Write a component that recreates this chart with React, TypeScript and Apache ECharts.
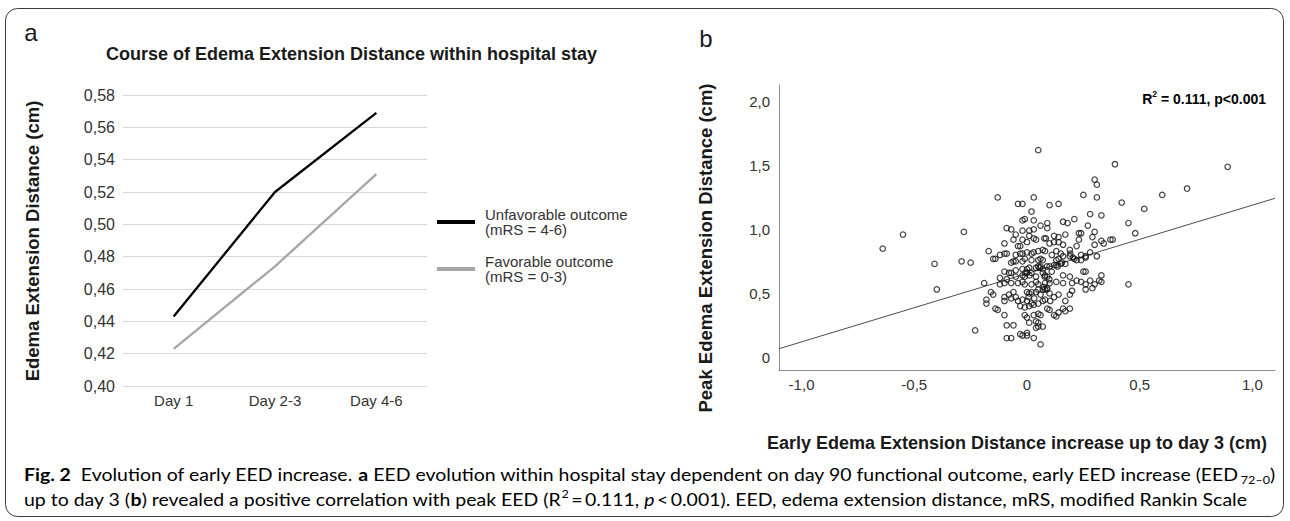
import React, { useEffect, useRef } from "react";
import * as echarts from "echarts";

// ---- Panel a: mean edema extension distance per time window ----
const days = ["Day 1", "Day 2-3", "Day 4-6"];
const unfavorableEED = [0.443, 0.52, 0.569];
const favorableEED = [0.423, 0.474, 0.531];
const outcomeNames = ["Unfavorable outcome\n(mRS = 4-6)", "Favorable outcome\n(mRS = 0-3)"];

// ---- Panel b: early EED increase (x) vs peak EED (y), in cm ----
const scatterTicksX = [-1, -0.5, 0, 0.5, 1];
const scatterTicksY = [0, 0.5, 1, 1.5, 2];
const scatterRangeX = [-1.1, 1.1];
const scatterRangeY = [-0.1, 2.13];
const fitLine = { intercept: 0.655, slope: 0.535 };
const peakVsEarly: [number, number][] = [
  [0.05, 1.62], [0.39, 1.51], [0.3, 1.39], [0.31, 1.35], [-0.13, 1.25], [0.03, 1.25], [0.25, 1.27], [0.31, 1.25],
  [0.42, 1.21], [-0.04, 1.2], [-0.02, 1.2], [0.1, 1.19], [0.14, 1.2], [0.02, 1.14], [0.28, 1.12], [0.33, 1.11],
  [-0.02, 1.07], [-0.01, 1.08], [0.03, 1.07], [0.09, 1.05], [0.16, 1.06], [0.18, 1.05], [0.21, 1.08], [0.27, 1.03],
  [0.45, 1.05], [0.06, 1.03],
  [0.71, 1.32], [0.89, 1.49], [0.6, 1.27], [0.52, 1.16],
  [-0.64, 0.85], [-0.55, 0.96], [-0.41, 0.73], [-0.4, 0.53],
  [-0.28, 0.98], [-0.09, 1.01], [-0.07, 1.0], [-0.05, 0.96], [-0.02, 0.99], [0.01, 0.99], [0.01, 0.95], [0.03, 1.0],
  [0.09, 1.01], [-0.02, 0.92], [0.0, 0.9], [0.03, 0.93], [0.04, 0.92], [0.077, 0.93], [0.084, 0.93], [0.12, 0.95],
  [0.14, 0.94], [0.17, 0.96], [0.23, 0.97], [0.24, 0.97], [0.3, 0.98], [0.48, 0.97], [-0.1, 0.89], [-0.06, 0.92],
  [-0.04, 0.87], [0.1, 0.89], [0.12, 0.9], [0.14, 0.9], [0.16, 0.88], [0.23, 0.92], [0.29, 0.94], [0.3, 0.88],
  [0.33, 0.91], [0.34, 0.89], [0.37, 0.92], [0.38, 0.92], [-0.03, 0.87],
  [-0.17, 0.83], [-0.15, 0.77], [-0.14, 0.77], [-0.12, 0.8], [-0.1, 0.81], [-0.09, 0.81], [-0.05, 0.8], [-0.03, 0.81],
  [-0.02, 0.81], [0.0, 0.82], [0.02, 0.81], [0.03, 0.82], [0.05, 0.83], [0.07, 0.84], [0.08, 0.83], [0.13, 0.83],
  [0.15, 0.81], [0.19, 0.84], [0.22, 0.87], [0.24, 0.8], [0.26, 0.79], [0.28, 0.82], [0.31, 0.79],
  [-0.07, 0.74], [-0.06, 0.75], [-0.05, 0.75], [-0.02, 0.75], [-0.01, 0.77], [0.02, 0.76], [0.05, 0.76], [0.06, 0.77],
  [0.07, 0.76], [0.11, 0.8], [0.13, 0.76], [0.14, 0.77], [0.16, 0.79], [0.19, 0.79], [0.21, 0.77], [0.22, 0.76],
  [0.24, 0.76], [0.26, 0.78], [-0.29, 0.75], [-0.25, 0.74],
  [-0.1, 0.67], [-0.08, 0.66], [-0.07, 0.66], [-0.05, 0.68], [-0.02, 0.69], [0.0, 0.69], [0.01, 0.7], [0.04, 0.7],
  [0.05, 0.71], [0.06, 0.71], [0.1, 0.71], [0.12, 0.72], [0.13, 0.72], [0.15, 0.73], [0.17, 0.73], [0.25, 0.67],
  [0.26, 0.67],
  [-0.12, 0.62], [-0.09, 0.61], [-0.1, 0.58], [-0.05, 0.63], [-0.02, 0.64], [-0.01, 0.63], [0.0, 0.66], [0.02, 0.66],
  [0.04, 0.63], [0.07, 0.66], [0.08, 0.64], [0.09, 0.63], [0.11, 0.67], [0.16, 0.64], [0.19, 0.63], [0.22, 0.6],
  [0.24, 0.59], [0.28, 0.6], [0.32, 0.6], [0.33, 0.64],
  [-0.19, 0.58], [-0.12, 0.57], [-0.07, 0.58], [-0.04, 0.58], [-0.02, 0.59], [-0.01, 0.57], [0.02, 0.57], [0.04, 0.59],
  [0.05, 0.57], [0.08, 0.58], [0.1, 0.58], [0.13, 0.59], [0.16, 0.58], [0.2, 0.58], [0.26, 0.57], [0.3, 0.57],
  [0.33, 0.59], [0.45, 0.57],
  [-0.16, 0.51], [-0.15, 0.49], [-0.18, 0.45], [-0.18, 0.42], [-0.1, 0.47], [-0.1, 0.44], [-0.08, 0.49], [-0.07, 0.46],
  [-0.06, 0.51], [-0.05, 0.47], [-0.04, 0.44], [0.0, 0.51], [0.01, 0.5], [0.02, 0.51], [0.04, 0.51], [0.05, 0.53],
  [0.06, 0.49], [0.07, 0.53], [0.08, 0.53], [0.09, 0.54], [0.1, 0.5], [0.12, 0.47], [0.14, 0.49], [0.17, 0.44],
  [0.19, 0.49], [0.2, 0.52],
  [-0.02, 0.45], [0.0, 0.44], [0.02, 0.42], [0.05, 0.42], [0.07, 0.44], [0.08, 0.45], [-0.03, 0.4], [-0.01, 0.39],
  [0.01, 0.4], [0.03, 0.41], [0.09, 0.38], [0.1, 0.37], [0.12, 0.33], [0.13, 0.32], [0.14, 0.35], [0.16, 0.38],
  [0.17, 0.36], [0.19, 0.38], [-0.14, 0.38], [-0.13, 0.37], [-0.1, 0.33], [-0.01, 0.33], [0.0, 0.31], [0.03, 0.33],
  [0.05, 0.34], [0.06, 0.33], [0.01, 0.27], [0.04, 0.28], [0.05, 0.27], [0.05, 0.24], [0.04, 0.23], [0.07, 0.24],
  [-0.09, 0.25], [-0.06, 0.25], [-0.23, 0.21], [-0.03, 0.18], [-0.02, 0.17], [0.0, 0.19], [0.0, 0.17], [-0.09, 0.15],
  [-0.07, 0.15], [0.03, 0.15], [0.06, 0.1], [0.26, 0.53], [0.29, 0.54],
  // overlapping marks inside the densest part of the cloud
  [0.056, 0.7], [0.071, 0.69], [0.088, 0.71], [0.136, 0.71], [0.155, 0.74], [-0.008, 0.66], [0.011, 0.64],
  [0.078, 0.63], [0.099, 0.61], [0.204, 0.78], [0.192, 0.81], [0.074, 0.55], [0.088, 0.53], [0.007, 0.47],
  [0.032, 0.46], [0.103, 0.44],
];

// ---- Figure caption (text runs: [text, style key]) ----
const captionLine1: [string, string][] = [
  ["Fig. 2", "b"],
  ["  Evolution of early EED increase. ", "n"],
  ["a", "b"],
  [" EED evolution within hospital stay dependent on day 90 functional outcome, early EED increase (EED", "n"],
  ["72\u20130", "sub"],
  [")", "n"],
];
const captionLine2: [string, string][] = [
  ["up to day 3 (", "n"],
  ["b", "b"],
  [") revealed a positive correlation with peak EED (R", "n"],
  ["2", "sup"],
  ["\u2009=\u20090.111, ", "n"],
  ["p", "i"],
  ["\u2009<\u20090.001). EED, edema extension distance, mRS, modified Rankin Scale", "n"],
];

const FONT = "'Liberation Sans', Arial, Helvetica, sans-serif";
const CAPTION_FONT = "Lato, 'Open Sans', sans-serif";
const CAPTION_SIZE = 17;
const CAPTION_COLOR = "#231f20";

const captionRich: Record<string, any> = {
  n: { fontFamily: CAPTION_FONT, fontSize: CAPTION_SIZE, lineHeight: 22, color: CAPTION_COLOR },
  b: { fontFamily: CAPTION_FONT, fontSize: CAPTION_SIZE, lineHeight: 22, color: CAPTION_COLOR, fontWeight: "bold" },
  i: { fontFamily: CAPTION_FONT, fontSize: CAPTION_SIZE, lineHeight: 22, color: CAPTION_COLOR, fontStyle: "italic" },
  sub: { fontFamily: CAPTION_FONT, fontSize: 11, lineHeight: 12, color: CAPTION_COLOR, verticalAlign: "bottom" },
  sup: { fontFamily: CAPTION_FONT, fontSize: 11, lineHeight: 12, color: CAPTION_COLOR, verticalAlign: "top" },
};

function measureRuns(runs: [string, string][]): number {
  const ctx = document.createElement("canvas").getContext("2d");
  if (!ctx) return 0;
  let w = 0;
  for (const [t, k] of runs) {
    const st = captionRich[k];
    ctx.font = `${st.fontStyle || "normal"} ${st.fontWeight || "normal"} ${st.fontSize}px ${CAPTION_FONT}`;
    w += ctx.measureText(t).width;
  }
  return w;
}

const toRich = (runs: [string, string][]) => runs.map(([t, k]) => `{${k}|${t}}`).join("");

const commaLabel = (v: number) => (Math.abs(v) < 1e-9 ? "0" : v.toFixed(1).replace(".", ","));

function buildOption(): echarts.EChartsCoreOption {
  const fitAt = (x: number) => fitLine.intercept + fitLine.slope * x;
  const fitData = scatterRangeX.map((x) => [x, fitAt(x)]);

  const captionLeft = 24;
  const captionRight = 1275;
  const w1 = measureRuns(captionLine1);
  const s1 = w1 > 0 ? (captionRight - captionLeft) / w1 : 1;

  return {
    animation: false,
    backgroundColor: "#ffffff",
    textStyle: { fontFamily: FONT },
    grid: [
      { left: 123, top: 95, width: 304, height: 291 },
      { left: 779, top: 85, width: 496, height: 285 },
    ],
    xAxis: [
      {
        gridIndex: 0,
        type: "category",
        data: days,
        boundaryGap: true,
        axisLine: { show: false },
        axisTick: { show: false },
        axisLabel: { color: "#333", fontSize: 15, margin: 7, fontFamily: FONT },
      },
      {
        gridIndex: 1,
        type: "value",
        min: scatterRangeX[0],
        max: scatterRangeX[1],
        axisLine: { show: true, onZero: false, lineStyle: { color: "#8c8c8c", width: 1 } },
        axisTick: { show: false },
        splitLine: { show: false },
        axisLabel: {
          customValues: scatterTicksX,
          formatter: commaLabel,
          fontSize: 15,
          color: "#333",
          margin: 7,
          fontFamily: FONT,
        },
      },
    ],
    yAxis: [
      {
        gridIndex: 0,
        type: "value",
        min: 0.4,
        max: 0.58,
        interval: 0.02,
        axisLine: { show: false },
        axisTick: { show: false },
        splitLine: { lineStyle: { color: "#d9d9d9", width: 1 } },
        axisLabel: {
          formatter: (v: number) => v.toFixed(2).replace(".", ","),
          fontSize: 16,
          color: "#333",
          margin: 8,
          fontFamily: FONT,
        },
      },
      {
        gridIndex: 1,
        type: "value",
        min: scatterRangeY[0],
        max: scatterRangeY[1],
        axisLine: { show: true, onZero: false, lineStyle: { color: "#8c8c8c", width: 1 } },
        axisTick: { show: false },
        splitLine: { show: false },
        axisLabel: {
          customValues: scatterTicksY,
          formatter: commaLabel,
          fontSize: 15,
          color: "#333",
          margin: 9,
          fontFamily: FONT,
        },
      },
    ],
    legend: {
      data: outcomeNames,
      orient: "vertical",
      left: 437,
      top: 207,
      padding: 0,
      itemWidth: 38,
      itemHeight: 4,
      itemGap: 17,
      icon: "rect",
      selectedMode: false,
      textStyle: { fontSize: 15, lineHeight: 15, color: "#333", fontFamily: FONT, padding: [0, 0, 0, 5] },
    },
    series: [
      {
        name: outcomeNames[0],
        type: "line",
        xAxisIndex: 0,
        yAxisIndex: 0,
        data: unfavorableEED,
        symbol: "none",
        color: "#000000",
        lineStyle: { color: "#000000", width: 2.3 },
      },
      {
        name: outcomeNames[1],
        type: "line",
        xAxisIndex: 0,
        yAxisIndex: 0,
        data: favorableEED,
        symbol: "none",
        color: "#a6a6a6",
        lineStyle: { color: "#a6a6a6", width: 2.3 },
      },
      {
        name: "fit",
        type: "line",
        xAxisIndex: 1,
        yAxisIndex: 1,
        data: fitData,
        symbol: "none",
        lineStyle: { color: "#4d4d4d", width: 1 },
        z: 1,
      },
      {
        name: "patients",
        type: "scatter",
        xAxisIndex: 1,
        yAxisIndex: 1,
        data: peakVsEarly,
        symbol: "circle",
        symbolSize: 5.5,
        itemStyle: { color: "rgba(255,255,255,0)", borderColor: "#111111", borderWidth: 1.2 },
        z: 2,
      },
    ],
    graphic: [
      {
        type: "rect",
        silent: true,
        z: -10,
        shape: { x: 5.5, y: 8.5, width: 1278, height: 508, r: 12 },
        style: { fill: "none", stroke: "#3c3c3c", lineWidth: 1 },
      },
      {
        type: "text",
        x: 31,
        y: 32,
        style: { text: "a", fontSize: 24, fontFamily: FONT, fill: "#1a1a1a", align: "center", verticalAlign: "middle" },
      },
      {
        type: "text",
        x: 706,
        y: 38,
        style: { text: "b", fontSize: 24, fontFamily: FONT, fill: "#1a1a1a", align: "center", verticalAlign: "middle" },
      },
      {
        type: "text",
        x: 106,
        y: 54,
        style: {
          text: "Course of Edema Extension Distance within hospital stay",
          fontSize: 18,
          fontWeight: "bold",
          fontFamily: FONT,
          fill: "#1a1a1a",
          align: "left",
          verticalAlign: "middle",
        },
      },
      {
        type: "text",
        x: 32,
        y: 241,
        rotation: Math.PI / 2,
        style: {
          text: "Edema Extension Distance (cm)",
          fontSize: 18.5,
          fontWeight: "bold",
          fontFamily: FONT,
          fill: "#1a1a1a",
          align: "center",
          verticalAlign: "middle",
        },
      },
      {
        type: "text",
        x: 705,
        y: 248,
        rotation: Math.PI / 2,
        style: {
          text: "Peak Edema Extension Distance (cm)",
          fontSize: 18.5,
          fontWeight: "bold",
          fontFamily: FONT,
          fill: "#1a1a1a",
          align: "center",
          verticalAlign: "middle",
        },
      },
      {
        type: "text",
        x: 1017,
        y: 443,
        style: {
          text: "Early Edema Extension Distance increase up to day 3 (cm)",
          fontSize: 18,
          fontWeight: "bold",
          fontFamily: FONT,
          fill: "#1a1a1a",
          align: "center",
          verticalAlign: "middle",
        },
      },
      {
        type: "text",
        x: 1266,
        y: 99,
        style: {
          text: "{r|R}{s|2}{r| = 0.111, p<0.001}",
          align: "right",
          verticalAlign: "middle",
          rich: {
            r: { fontSize: 14, fontWeight: "bold", fontFamily: FONT, color: "#1a1a1a", lineHeight: 20 },
            s: { fontSize: 8.5, fontWeight: "bold", fontFamily: FONT, color: "#1a1a1a", lineHeight: 10, verticalAlign: "top" },
          },
        },
      },
      {
        type: "text",
        x: captionLeft,
        y: 474,
        scaleX: s1,
        style: { text: toRich(captionLine1), rich: captionRich, align: "left", verticalAlign: "middle" },
      },
      {
        type: "text",
        x: captionLeft,
        y: 499,
        scaleX: s1,
        style: { text: toRich(captionLine2), rich: captionRich, align: "left", verticalAlign: "middle" },
      },
    ],
  };
}

export default function App() {
  const ref = useRef<HTMLDivElement>(null);
  useEffect(() => {
    if (!ref.current) return;
    const chart = echarts.init(ref.current, null, { renderer: "svg" });
    chart.setOption(buildOption());
    return () => chart.dispose();
  }, []);
  return (
    <div
      ref={ref}
      style={{ position: "absolute", left: 0, top: 0, width: 1290, height: 521, background: "#ffffff" }}
    />
  );
}
